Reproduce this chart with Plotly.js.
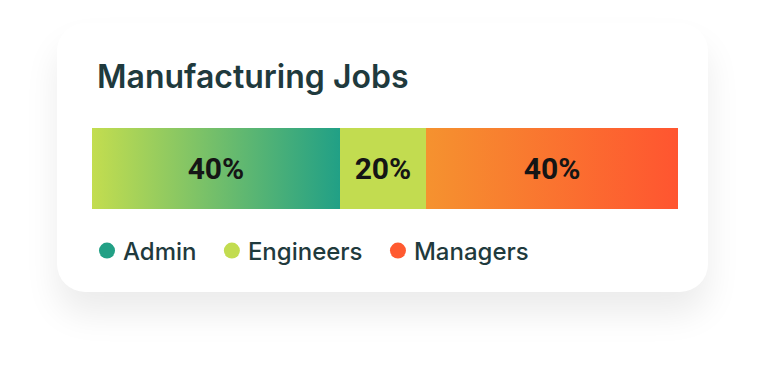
<!DOCTYPE html>
<html>
<head>
<meta charset="utf-8">
<script src="https://cdn.plot.ly/plotly-3.0.1.min.js"></script>
<style>
  html, body { margin: 0; padding: 0; background: #ffffff; width: 764px; height: 380px; overflow: hidden; }
  #card { position: absolute; left: 57px; top: 23px; width: 651px; height: 269px; background: #ffffff;
          border-radius: 28px; box-shadow: 0 22px 34px rgba(0,0,0,0.08); }
  #chart { position: absolute; left: 0; top: 0; width: 764px; height: 380px; }
</style>
</head>
<body>
<div id="card"></div>
<div id="chart"></div>
<script>
// ---- data ----
const categories = ['Admin', 'Engineers', 'Managers'];
const shares = [42.3, 14.7, 43.0];          // segment lengths as drawn
const shareLabels = ['40%', '20%', '40%'];  // labels printed in the bar
const rowName = ['Manufacturing Jobs'];

// ---- styles ----
const solidColors = ['#22a085', '#c2dc50', '#ff5a30'];
const gradients = [['#c3dd4f', '#21a086'], null, ['#f5922f', '#ff5530']];
const textColor = '#1f3a3d';

const traces = categories.map((name, i) => ({
  type: 'bar',
  orientation: 'h',
  name: name,
  y: [rowName[0]],
  x: [shares[i]],
  text: [shareLabels[i]],
  textposition: 'inside',
  insidetextanchor: 'middle',
  textfont: { family: 'Roboto', size: 30, weight: 700, color: '#151515' },
  marker: { color: solidColors[i], line: { width: 0 } },
  showlegend: false,
  hoverinfo: 'skip'
}));

categories.forEach((name, i) => {
  traces.push({
    type: 'scatter',
    mode: 'markers',
    name: name + '\u00a0',
    x: [null], y: [null],
    marker: { symbol: 'circle', size: 16, color: solidColors[i], line: { width: 0 } },
    showlegend: true,
    hoverinfo: 'skip'
  });
});

const layout = {
  width: 764, height: 380,
  margin: { l: 92, r: 86, t: 128, b: 171, pad: 0 },
  paper_bgcolor: 'rgba(0,0,0,0)',
  plot_bgcolor: 'rgba(0,0,0,0)',
  barmode: 'stack',
  bargap: 0,
  title: {
    text: rowName[0],
    xref: 'container', yref: 'container',
    x: 97 / 764, xanchor: 'left',
    y: 1 - 76.5 / 380, yanchor: 'middle',
    font: { family: 'Inter', size: 32, weight: 600, color: textColor }
  },
  xaxis: { visible: false, range: [0, 100], fixedrange: true },
  yaxis: { visible: false, range: [-0.5, 0.5], fixedrange: true },
  showlegend: true,
  legend: {
    orientation: 'h',
    xref: 'container', yref: 'container',
    x: 83 / 764, xanchor: 'left',
    y: 1 - 251 / 380, yanchor: 'middle',
    font: { family: 'Inter', size: 24, weight: 500, color: textColor },
    bgcolor: 'rgba(0,0,0,0)',
    traceorder: 'normal'
  }
};

const gd = document.getElementById('chart');
Plotly.newPlot(gd, traces, layout, { displayModeBar: false, staticPlot: true }).then(() => {
  const svg = gd.querySelector('svg.main-svg');
  const ns = 'http://www.w3.org/2000/svg';
  let defs = svg.querySelector('defs');
  if (!defs) { defs = document.createElementNS(ns, 'defs'); svg.insertBefore(defs, svg.firstChild); }
  const barTraces = gd.querySelectorAll('.barlayer .trace');
  barTraces.forEach((tr, i) => {
    const g = gradients[i];
    if (!g) return;
    const id = 'grad' + i;
    const lg = document.createElementNS(ns, 'linearGradient');
    lg.setAttribute('id', id);
    lg.setAttribute('x1', '0'); lg.setAttribute('y1', '0');
    lg.setAttribute('x2', '1'); lg.setAttribute('y2', '0');
    g.forEach((c, k) => {
      const st = document.createElementNS(ns, 'stop');
      st.setAttribute('offset', k / (g.length - 1));
      st.setAttribute('stop-color', c);
      lg.appendChild(st);
    });
    defs.appendChild(lg);
    tr.querySelectorAll('.point path').forEach(p => { p.style.fill = 'url(#' + id + ')'; });
  });
  // nudge legend dots closer to their labels
  gd.querySelectorAll('.legend .traces .legendpoints').forEach(g => {
    g.setAttribute('transform', 'translate(4,0)');
  });
});
</script>
</body>
</html>
